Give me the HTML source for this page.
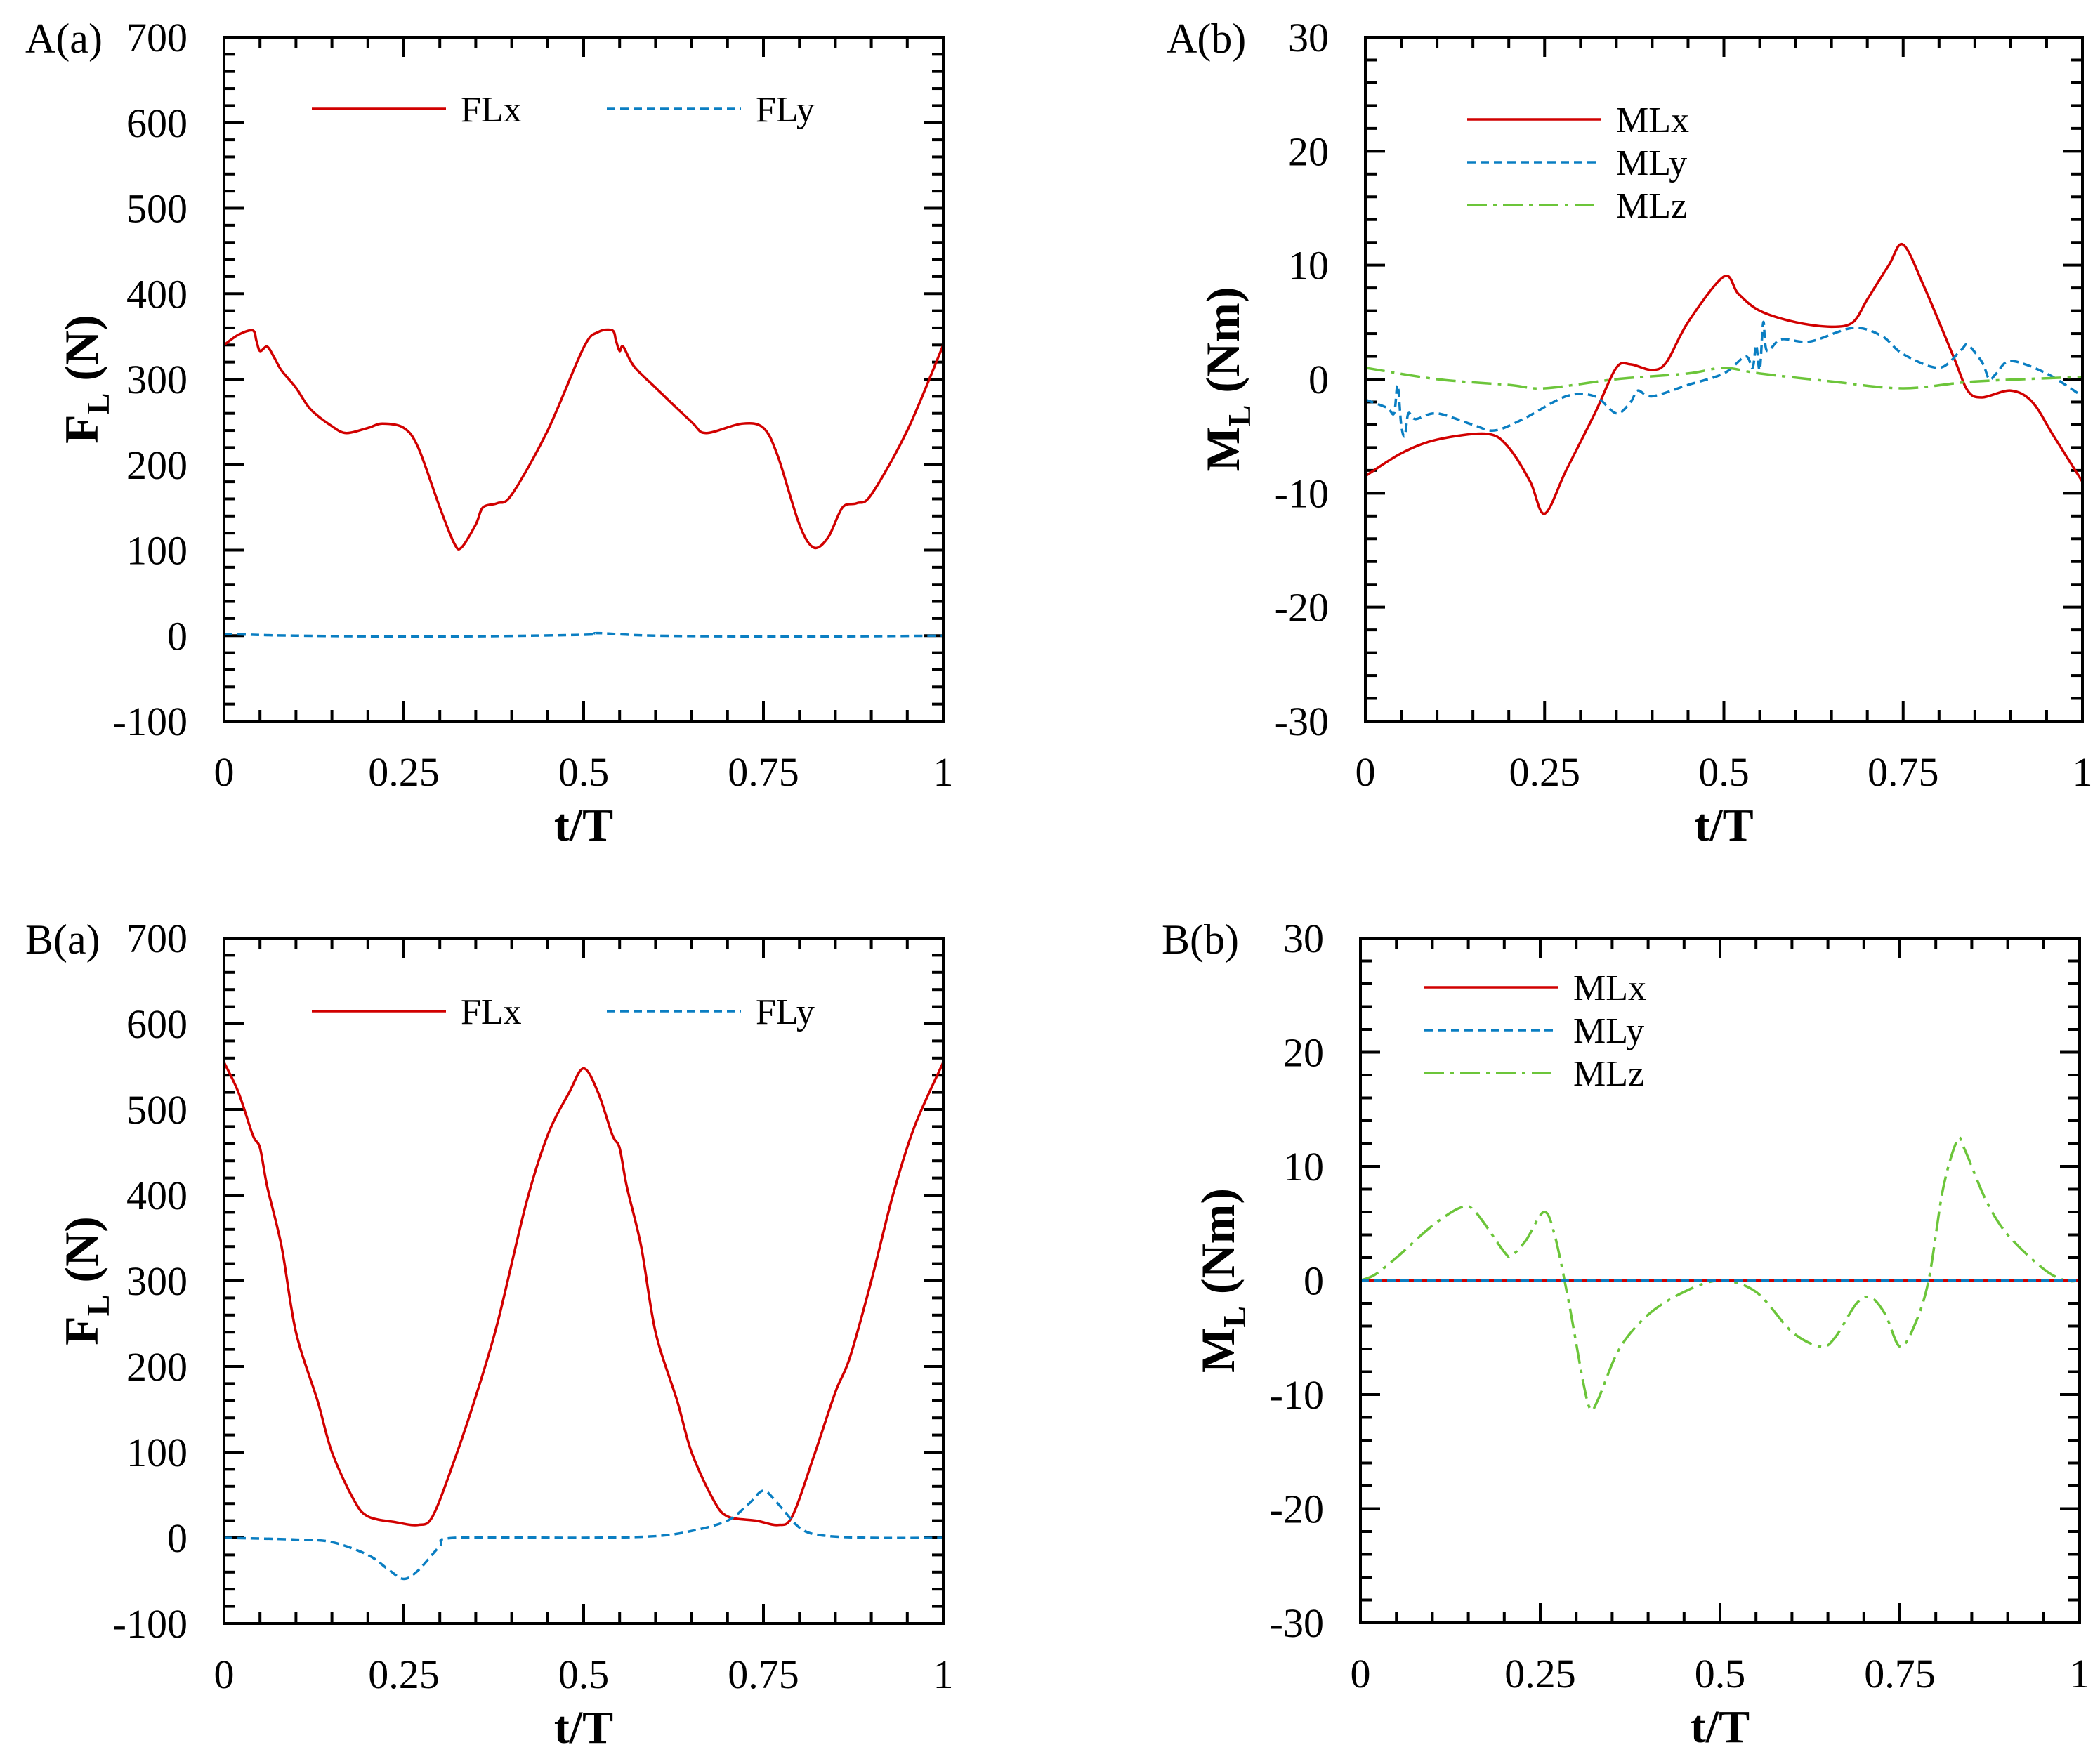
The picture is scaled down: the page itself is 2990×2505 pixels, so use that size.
<!DOCTYPE html>
<html><head><meta charset="utf-8"><style>
html,body{margin:0;padding:0;background:#fff}
svg{display:block;font-family:"Liberation Serif","Times New Roman",serif}
</style></head><body>
<svg id="fig" width="2990" height="2505" viewBox="0 0 2990 2505"></svg>
<script>
// ---- data ----
const aaT   = [0,0.02,0.04,0.045,0.05,0.06,0.07,0.08,0.1,0.12,0.15,0.17,0.2,0.22,0.25,0.27,0.3,0.32,0.33,0.35,0.36,0.38,0.4,0.45,0.5,0.52,0.54,0.545,0.55,0.555,0.57,0.6,0.65,0.67,0.72,0.75,0.77,0.8,0.82,0.84,0.86,0.88,0.9,0.95,1];
const aaFLx = [340,352,357,345,333,338,325,310,290,265,245,237,243,248,243,220,150,108,103,130,150,155,165,240,337,355,357,345,333,338,315,290,250,237,248,243,210,130,103,115,150,155,165,240,340];
const aaFLyT = [0,0.1,0.3,0.5,0.52,0.6,0.8,1];
const aaFLy  = [2,0,-1,1,3,0,-1,0];

const abXT  = [0,0.05,0.1,0.17,0.2,0.23,0.25,0.28,0.32,0.35,0.37,0.4,0.42,0.45,0.5,0.52,0.55,0.6,0.65,0.68,0.7,0.73,0.75,0.78,0.82,0.84,0.86,0.9,0.93,0.96,1];
const abMLx = [-8.5,-6.5,-5.3,-4.8,-6,-9,-11.8,-8,-3,1,1.3,0.8,1.5,5,9,7.5,6,5,4.6,5,7,10,11.8,8,2,-1,-1.6,-1,-2,-5,-9];
const abYT  = [0,0.03,0.04,0.045,0.05,0.055,0.06,0.07,0.1,0.15,0.18,0.22,0.28,0.32,0.35,0.37,0.38,0.4,0.45,0.5,0.53,0.54,0.545,0.55,0.555,0.56,0.58,0.62,0.68,0.72,0.75,0.8,0.83,0.84,0.86,0.87,0.88,0.9,0.95,1];
const abMLy = [-1.8,-2.5,-3,-0.5,-4,-5,-3,-3.5,-3,-4,-4.5,-3.5,-1.5,-1.5,-3,-2,-1,-1.5,-0.5,0.5,2,1,3,0.8,5,2.5,3.5,3.3,4.5,3.8,2.2,1,2.5,3,1.5,0,0.5,1.6,0.5,-1.5];
const abZT  = [0,0.1,0.2,0.25,0.35,0.45,0.5,0.55,0.65,0.75,0.85,1];
const abMLz = [1,0,-0.5,-0.8,0,0.5,1,0.5,-0.2,-0.8,-0.2,0.2];

const baT   = [0,0.02,0.04,0.05,0.06,0.08,0.1,0.13,0.15,0.18,0.2,0.24,0.27,0.29,0.32,0.35,0.38,0.42,0.45,0.48,0.5,0.52,0.54,0.55,0.56,0.58,0.6,0.63,0.65,0.68,0.7,0.74,0.77,0.79,0.82,0.85,0.87,0.9,0.93,0.96,1];
const baFLx = [555,520,470,455,410,340,240,160,100,45,25,18,15,25,90,165,250,390,470,520,548,520,470,455,410,340,240,160,100,45,25,20,15,25,95,170,210,300,400,480,555];
const baYT  = [0,0.1,0.15,0.2,0.23,0.25,0.27,0.3,0.32,0.5,0.6,0.65,0.7,0.73,0.75,0.77,0.8,0.83,0.9,1];
const baFLy = [0,-2,-5,-20,-38,-48,-38,-10,0,0,2,8,20,40,55,40,12,3,0,0];

const bbT   = [0,1];
const bbMLx = [0,0];
const bbMLy = [0,0];
const bbZT  = [0,0.02,0.05,0.1,0.14,0.16,0.2,0.21,0.23,0.255,0.27,0.29,0.31,0.32,0.33,0.36,0.4,0.45,0.5,0.55,0.6,0.64,0.66,0.69,0.71,0.73,0.75,0.77,0.79,0.81,0.83,0.84,0.87,0.9,0.95,0.98,1];
const bbMLz = [0,0.5,2,4.8,6.4,6,2.5,2.2,3.5,6,4,-2,-9,-11.3,-10.5,-6,-3,-1,0,-1,-4.5,-5.8,-5,-2,-1.5,-3,-5.8,-4,0,8,12.3,11.5,7,4,1,0,0];

const xTickLabels = ["0","0.25","0.5","0.75","1"];
const fTickLabels = ["-100","0","100","200","300","400","500","600","700"];
const mTickLabels = ["-30","-20","-10","0","10","20","30"];

const NS="http://www.w3.org/2000/svg";
const svg=document.getElementById('fig');
function mk(tag,attrs,parent){const e=document.createElementNS(NS,tag);for(const k in attrs)e.setAttribute(k,attrs[k]);(parent||svg).appendChild(e);return e;}

const RED="#d10000",BLUE="#0a7ec2",GREEN="#6cc53a";
const styles={solid:{stroke:RED,dash:null},dash:{stroke:BLUE,dash:"12 7"},dashdot:{stroke:GREEN,dash:"28 9 5 9"}};

function smoothPath(pts){
  let d='M'+pts[0][0]+','+pts[0][1];
  for(let i=0;i<pts.length-1;i++){
    const p0=pts[Math.max(0,i-1)],p1=pts[i],p2=pts[i+1],p3=pts[Math.min(pts.length-1,i+2)];
    const k=0.16;
    const c1=[p1[0]+(p2[0]-p0[0])*k,p1[1]+(p2[1]-p0[1])*k];
    const c2=[p2[0]-(p3[0]-p1[0])*k,p2[1]-(p3[1]-p1[1])*k];
    d+=` C${c1[0]},${c1[1]} ${c2[0]},${c2[1]} ${p2[0]},${p2[1]}`;
  }
  return d;
}

function panel(o){
  const g=mk('g',{});
  
  
  const X=t=>o.L+(t-0)*(o.R-o.L);
  const Y=v=>o.B-(v-o.ymin)/(o.ymax-o.ymin)*(o.B-o.T);
  for(let i=0;i<=20;i++){const t=i/20;const major=i%5==0;const len=major?28:16;
    mk('line',{x1:X(t),x2:X(t),y1:o.B,y2:o.B-len,stroke:'#000','stroke-width':4},g);
    mk('line',{x1:X(t),x2:X(t),y1:o.T,y2:o.T+len,stroke:'#000','stroke-width':4},g);}
  for(let v=o.ymin;v<=o.ymax+1e-9;v+=o.minor){const major=Math.abs(((v-o.ymin)/o.major)-Math.round((v-o.ymin)/o.major))<1e-6;const len=major?28:16;
    mk('line',{x1:o.L,x2:o.L+len,y1:Y(v),y2:Y(v),stroke:'#000','stroke-width':4},g);
    mk('line',{x1:o.R,x2:o.R-len,y1:Y(v),y2:Y(v),stroke:'#000','stroke-width':4},g);}
  o.series.forEach(s=>{const st=styles[s.style];
    const p=mk('path',{d:smoothPath(s.t.map((t,i)=>[X(t),Y(s.v[i])])),fill:'none',stroke:st.stroke,'stroke-width':3.5,'stroke-linejoin':'round'},g);
    if(st.dash)p.setAttribute('stroke-dasharray',st.dash);
    
    
  });
  mk('rect',{x:o.L,y:o.T,width:o.R-o.L,height:o.B-o.T,fill:'none',stroke:'#000','stroke-width':4},g);
  xTickLabels.forEach((lab,i)=>{const t=mk('text',{x:X(i/4),y:o.B+92,'font-size':58,'text-anchor':'middle'},g);t.textContent=lab;
    });
  o.ylabels.forEach((lab,i)=>{const t=mk('text',{x:o.L-52,y:Y(o.ymin+i*o.major)+20,'font-size':58,'text-anchor':'end'},g);t.textContent=lab;
    });
  const xt=mk('text',{x:(o.L+o.R)/2,y:o.B+170,'font-size':66,'font-weight':'bold','text-anchor':'middle'},g);xt.textContent='t/T';
  
  const yt=mk('text',{transform:`translate(${o.L-180},${(o.T+o.B)/2}) rotate(-90)`,'font-size':68,'font-weight':'bold','text-anchor':'middle'},g);
  yt.innerHTML=o.ytitle[0]+'<tspan font-size="46" dy="16">L</tspan><tspan dy="-16"> '+o.ytitle[1]+'</tspan>';
  
  const pl=mk('text',{x:o.L-283,y:o.T+22,'font-size':60},g);pl.textContent=o.label;
  
  o.legend.forEach(l=>{const st=styles[l.style];const lg=mk('g',{},g);
    
    const ln=mk('line',{x1:l.x,x2:l.x+191,y1:l.y,y2:l.y,stroke:st.stroke,'stroke-width':3.5},lg);
    if(st.dash)ln.setAttribute('stroke-dasharray',st.dash);
    const tx=mk('text',{x:l.x+212,y:l.y+18,'font-size':52},lg);tx.textContent=l.text;});
}

panel({name:'panel-a-a',label:'A(a)',L:319,R:1343,T:53,B:1027,ymin:-100,ymax:700,major:100,minor:20,ylabels:fTickLabels,ytitle:['F','(N)'],
  series:[{name:'series-flx',style:'solid',t:aaT,v:aaFLx},{name:'series-fly',style:'dash',t:aaFLyT,v:aaFLy}],
  legend:[{x:444,y:155,style:'solid',text:'FLx'},{x:864,y:155,style:'dash',text:'FLy'}]});
panel({name:'panel-a-b',label:'A(b)',L:1944,R:2965,T:53,B:1027,ymin:-30,ymax:30,major:10,minor:2,ylabels:mTickLabels,ytitle:['M','(Nm)'],
  series:[{name:'series-mlx',style:'solid',t:abXT,v:abMLx},{name:'series-mly',style:'dash',t:abYT,v:abMLy},{name:'series-mlz',style:'dashdot',t:abZT,v:abMLz}],
  legend:[{x:2089,y:170,style:'solid',text:'MLx'},{x:2089,y:231,style:'dash',text:'MLy'},{x:2089,y:292,style:'dashdot',text:'MLz'}]});
panel({name:'panel-b-a',label:'B(a)',L:319,R:1343,T:1336,B:2312,ymin:-100,ymax:700,major:100,minor:20,ylabels:fTickLabels,ytitle:['F','(N)'],
  series:[{name:'series-flx',style:'solid',t:baT,v:baFLx},{name:'series-fly',style:'dash',t:baYT,v:baFLy}],
  legend:[{x:444,y:1440,style:'solid',text:'FLx'},{x:864,y:1440,style:'dash',text:'FLy'}]});
panel({name:'panel-b-b',label:'B(b)',L:1937,R:2961,T:1336,B:2311,ymin:-30,ymax:30,major:10,minor:2,ylabels:mTickLabels,ytitle:['M','(Nm)'],
  series:[{name:'series-mlz',style:'dashdot',t:bbZT,v:bbMLz},{name:'series-mlx',style:'solid',t:bbT,v:bbMLx},{name:'series-mly',style:'dash',t:bbT,v:bbMLy}],
  legend:[{x:2028,y:1406,style:'solid',text:'MLx'},{x:2028,y:1467,style:'dash',text:'MLy'},{x:2028,y:1528,style:'dashdot',text:'MLz'}]});
</script>
</body></html>
